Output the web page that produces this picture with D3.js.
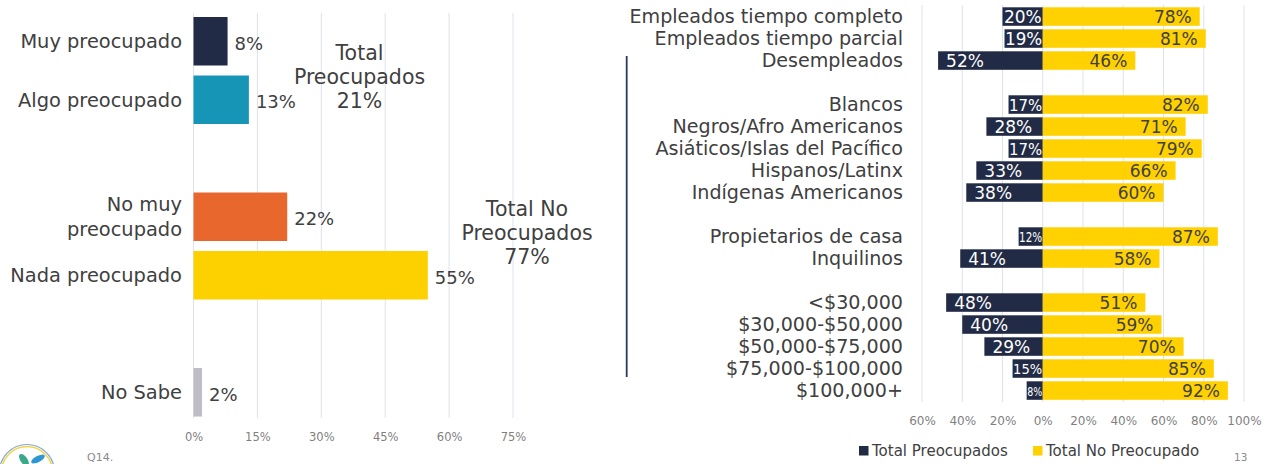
<!DOCTYPE html>
<html><head><meta charset="utf-8">
<script src="https://cdn.jsdelivr.net/npm/d3@7"></script>
<style>body{margin:0;background:#fff}svg{display:block;font-family:"DejaVu Sans",sans-serif}</style>
</head><body><svg id="c" width="1267" height="464"></svg>
<script>
// ---------- DATA ----------
const leftCategories = ["Muy preocupado", "Algo preocupado", "No muy preocupado", "Nada preocupado", "No Sabe"];
const leftValues = [8, 13, 22, 55, 2];
const leftTicks = [0, 15, 30, 45, 60, 75];
const leftTotals = [
  {lines: ["Total", "Preocupados"], members: [0, 1]},
  {lines: ["Total No", "Preocupados"], members: [2, 3]}
];

const rightCategories = [
  "Empleados tiempo completo", "Empleados tiempo parcial", "Desempleados",
  "Blancos", "Negros/Afro Americanos", "Asiáticos/Islas del Pacífico", "Hispanos/Latinx", "Indígenas Americanos",
  "Propietarios de casa", "Inquilinos",
  "<$30,000", "$30,000-$50,000", "$50,000-$75,000", "$75,000-$100,000", "$100,000+"
];
const totalPreocupados = [20, 19, 52, 17, 28, 17, 33, 38, 12, 41, 48, 40, 29, 15, 8];
const totalNoPreocupado = [78, 81, 46, 82, 71, 79, 66, 60, 87, 58, 51, 59, 70, 85, 92];
const rightGroupEnds = [2, 7, 9]; // a blank row follows these indices
const rightTicks = [-60, -40, -20, 0, 20, 40, 60, 80, 100];
const legendLabels = ["Total Preocupados", "Total No Preocupado"];

// ---------- STYLE ----------
const NAVY = "#222b45", YELLOW = "#ffd100", TXT = "#404040", GRID = "#dce2ec";
const leftColors = ["#222b45", "#1795b6", "#e8672c", "#fdd000", "#bebcc6"];

const svg = d3.select("#c");

// ---------- LEFT CHART ----------
const leftSlots = [leftCategories[0], leftCategories[1], "_g1", leftCategories[2], leftCategories[3], "_g2", leftCategories[4]];
const xL = d3.scaleLinear().domain([0, 75]).range([193.5, 513]);
const yL = d3.scaleBand().domain(leftSlots).range([12, 421.5]).paddingInner(0.171).paddingOuter(0.0855);

const gL = svg.append("g");
gL.selectAll("line.grid").data(leftTicks).join("line")
  .attr("x1", d => xL(d)).attr("x2", d => xL(d)).attr("y1", 13).attr("y2", 418)
  .attr("stroke", GRID).attr("stroke-width", 1);

const axL = d3.axisBottom(xL).tickValues(leftTicks).tickFormat(d => d + "%").tickSize(0).tickPadding(0);
gL.append("g").attr("transform", "translate(0,432)").call(axL)
  .call(g => g.select(".domain").remove())
  .call(g => g.selectAll("text").attr("fill", "#7f7f7f").attr("font-size", 11.5).attr("font-family", "DejaVu Sans").attr("dy", "0.35em").attr("y", 5));

gL.selectAll("rect.bar").data(leftCategories).join("rect")
  .attr("x", xL(0)).attr("y", d => yL(d))
  .attr("width", (d, i) => xL(leftValues[i]) - xL(0)).attr("height", yL.bandwidth())
  .attr("fill", (d, i) => leftColors[i]);

gL.selectAll("text.val").data(leftCategories).join("text")
  .attr("x", (d, i) => xL(leftValues[i]) + 7)
  .attr("y", d => yL(d) + yL.bandwidth() / 2 + 2)
  .attr("dy", "0.36em").attr("font-size", 18).attr("fill", TXT)
  .text((d, i) => leftValues[i] + "%");

gL.selectAll("text.cat").data(leftCategories).join("text")
  .attr("text-anchor", "end").attr("font-size", 19.4).attr("fill", TXT)
  .each(function (d) {
    const t = d3.select(this);
    const cy = yL(d) + yL.bandwidth() / 2;
    const lines = d === "No muy preocupado" ? ["No muy", "preocupado"] : [d];
    lines.forEach((ln, k) => {
      t.append("tspan").attr("x", 182)
        .attr("y", cy + (k - (lines.length - 1) / 2) * 25)
        .attr("dy", "0.36em").text(ln);
    });
  });

// totals annotations
const totalPos = [{x: 359.5, y: 59.5}, {x: 527, y: 216}];
leftTotals.forEach((t, i) => {
  const sum = d3.sum(t.members, m => leftValues[m]);
  const lines = t.lines.concat([sum + "%"]);
  const txt = gL.append("text").attr("text-anchor", "middle").attr("font-size", 20.5).attr("fill", TXT);
  lines.forEach((ln, k) => txt.append("tspan").attr("x", totalPos[i].x).attr("y", totalPos[i].y + k * 24).text(ln));
});

// ---------- RIGHT CHART ----------
const rightSlots = [];
rightCategories.forEach((c, i) => { rightSlots.push(c); if (rightGroupEnds.includes(i)) rightSlots.push("_gap" + i); });
const xR = d3.scaleLinear().domain([-60, 100]).range([922, 1244]);
const yR = d3.scaleBand().domain(rightSlots).range([5.55, 401.55]).paddingInner(0.159).paddingOuter(0.0795);

const gR = svg.append("g");
gR.selectAll("line.grid").data(rightTicks).join("line")
  .attr("x1", d => xR(d)).attr("x2", d => xR(d)).attr("y1", 5).attr("y2", 402)
  .attr("stroke", GRID).attr("stroke-width", 1);

const axR = d3.axisBottom(xR).tickValues(rightTicks).tickFormat(d => Math.abs(d) + "%").tickSize(0).tickPadding(0);
gR.append("g").attr("transform", "translate(0,416)").call(axR)
  .call(g => g.select(".domain").remove())
  .call(g => g.selectAll("text").attr("fill", "#7f7f7f").attr("font-size", 12).attr("font-family", "DejaVu Sans").attr("dy", "0.35em").attr("y", 5));

// navy bars (negative side)
gR.selectAll("rect.neg").data(rightCategories).join("rect")
  .attr("x", (d, i) => xR(-totalPreocupados[i])).attr("y", d => yR(d))
  .attr("width", (d, i) => xR(0) - xR(-totalPreocupados[i])).attr("height", yR.bandwidth())
  .attr("fill", NAVY);
// yellow bars
gR.selectAll("rect.pos").data(rightCategories).join("rect")
  .attr("x", xR(0)).attr("y", d => yR(d))
  .attr("width", (d, i) => xR(totalNoPreocupado[i]) - xR(0)).attr("height", yR.bandwidth())
  .attr("fill", YELLOW);

// navy labels
gR.selectAll("text.neg").data(rightCategories).join("text")
  .attr("fill", "#ffffff").attr("font-size", 17).attr("dy", "0.36em")
  .attr("y", d => yR(d) + yR.bandwidth() / 2 + 0.5)
  .text((d, i) => totalPreocupados[i] + "%")
  .each(function (d, i) {
    const t = d3.select(this);
    const x0 = xR(-totalPreocupados[i]), z = xR(0);
    const bw = z - x0;
    let len = this.getComputedTextLength();
    if (len > bw - 1) {
      const fs = 17 * Math.max(0.62, Math.sqrt((bw - 1) / len));
      t.attr("font-size", fs);
      len = this.getComputedTextLength();
      if (len > bw - 1) { t.attr("textLength", bw - 1).attr("lengthAdjust", "spacingAndGlyphs"); len = bw - 1; }
      t.attr("x", x0 + 0.5);
    } else {
      t.attr("x", Math.min(x0 + 8, z - 1 - len));
    }
  });

// yellow labels
gR.selectAll("text.pos").data(rightCategories).join("text")
  .attr("fill", TXT).attr("font-size", 17).attr("dy", "0.36em").attr("text-anchor", "end")
  .attr("x", (d, i) => xR(totalNoPreocupado[i]) - 8)
  .attr("y", d => yR(d) + yR.bandwidth() / 2 + 0.5)
  .text((d, i) => totalNoPreocupado[i] + "%");

// category labels
gR.selectAll("text.cat").data(rightCategories).join("text")
  .attr("text-anchor", "end").attr("x", 903).attr("font-size", 19.1).attr("fill", TXT)
  .attr("y", d => yR(d) + yR.bandwidth() / 2).attr("dy", "0.36em")
  .text(d => d);

// vertical rule
svg.append("line").attr("x1", 626.7).attr("x2", 626.7).attr("y1", 56).attr("y2", 377)
  .attr("stroke", "#2c3a5e").attr("stroke-width", 1.8);

// legend
const legColors = [NAVY, YELLOW];
const legX = [859, 1033];
legendLabels.forEach((l, i) => {
  svg.append("rect").attr("x", legX[i]).attr("y", 446).attr("width", 9.5).attr("height", 9.5).attr("fill", legColors[i]);
  svg.append("text").attr("x", legX[i] + 13).attr("y", 451).attr("dy", "0.36em")
    .attr("font-size", 15).attr("fill", TXT).text(l);
});

// page number and footnote
svg.append("text").attr("x", 1234).attr("y", 457.5).attr("dy", "0.36em").attr("font-size", 10.5).attr("fill", "#8c8c8c").text("13");
svg.append("text").attr("x", 87).attr("y", 461).attr("font-size", 11).attr("fill", "#8a8a8a").text("Q14.");

// logo (partial, bottom-left)
const logo = svg.append("g");
logo.append("circle").attr("cx", 27).attr("cy", 472).attr("r", 27.5).attr("fill", "#fff").attr("stroke", "#86a9d8").attr("stroke-width", 1.2);
logo.append("circle").attr("cx", 27).attr("cy", 472).attr("r", 25.5).attr("fill", "none").attr("stroke", "#f4d54e").attr("stroke-width", 1.6);
logo.append("ellipse").attr("cx", 24).attr("cy", 460).attr("rx", 3.5).attr("ry", 7).attr("transform", "rotate(-35 24 460)").attr("fill", "#3aa98a");
logo.append("ellipse").attr("cx", 38).attr("cy", 459).attr("rx", 3).attr("ry", 7.5).attr("transform", "rotate(62 38 459)").attr("fill", "#2f96d4");
</script></body></html>
